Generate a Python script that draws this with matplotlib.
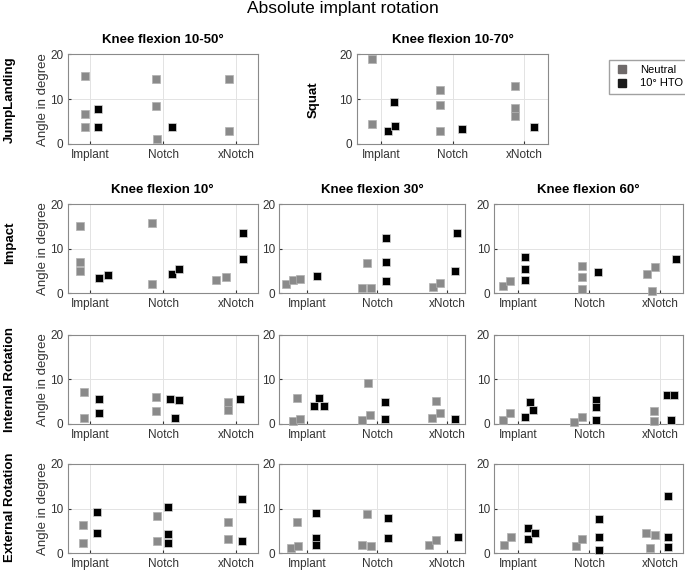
import matplotlib
matplotlib.use("Agg")
import matplotlib.pyplot as plt
from matplotlib.lines import Line2D

plt.rcParams["font.family"] = ["Liberation Sans", "DejaVu Sans"]

categories = ["Implant", "Notch", "xNotch"]
groups = ["Neutral", "10° HTO"]

# angle values per category (Implant, Notch, xNotch)
jump_neutral = [[15.1, 6.7, 3.7], [14.5, 8.5, 1.1], [14.4, 2.9]]
jump_hto = [[7.9, 3.8], [3.8], []]
squat_neutral = [[19.0, 4.4], [12.0, 8.8, 2.9], [12.9, 8.1, 6.2]]
squat_hto = [[2.8, 9.4, 4.0], [3.4], [3.7]]

impact10_neutral = [[15.1, 7.0, 4.9], [15.9, 2.0], [3.0, 3.7]]
impact10_hto = [[3.5, 4.2], [4.4, 5.5], [13.6, 7.6]]
impact30_neutral = [[2.0, 3.1, 3.3], [1.2, 1.2, 6.7], [1.5, 2.3]]
impact30_hto = [[3.8], [12.4, 7.0, 2.7], [13.6, 5.0]]
impact60_neutral = [[1.6, 2.8], [6.1, 3.7, 1.0], [4.4, 5.9, 0.5]]
impact60_hto = [[8.1, 5.4, 3.1], [4.7], [7.7]]

internal10_neutral = [[7.2, 1.3], [6.1, 2.9], [4.95, 3.2]]
internal10_hto = [[5.6, 2.5], [5.6, 5.3, 1.35], [5.6]]
internal30_neutral = [[0.7, 1.0, 5.9], [0.9, 1.9, 9.1], [1.3, 2.5, 5.2]]
internal30_hto = [[4.1, 5.7, 4.1], [4.8, 1.05], [1.05]]
internal60_neutral = [[0.9, 2.3], [0.3, 1.5], [2.9, 0.7]]
internal60_hto = [[1.5, 5.0, 3.0], [5.3, 3.7, 0.9], [6.4, 6.4, 0.75]]

external10_neutral = [[6.4, 2.3], [8.4, 2.8], [6.9, 3.1]]
external10_hto = [[9.2, 4.6], [10.3, 4.2, 2.2], [12.1, 2.7]]
external30_neutral = [[1.2, 1.6, 7.0], [1.8, 1.65, 8.7], [1.8, 2.9]]
external30_hto = [[9.1, 3.4, 1.7], [7.8, 3.4], [3.7]]
external60_neutral = [[1.8, 3.7], [1.6, 3.1], [4.5, 4.0, 1.2]]
external60_hto = [[5.6, 3.2, 4.6], [7.6, 3.6, 0.7], [12.7, 3.7, 1.3]]

# horizontal jitter of each point around its category (same nesting as above)
jump_neutral_dx = [[-0.07, -0.07, -0.07], [-0.1, -0.1, -0.08], [-0.1, -0.1]]
jump_hto_dx = [[0.11, 0.11], [0.12], []]
squat_neutral_dx = [[-0.13, -0.13], [-0.17, -0.17, -0.17], [-0.12, -0.12, -0.12]]
squat_hto_dx = [[0.1, 0.18, 0.2], [0.13], [0.14]]
impact10_neutral_dx = [[-0.14, -0.14, -0.14], [-0.15, -0.15], [-0.27, -0.14]]
impact10_hto_dx = [[0.12, 0.24], [0.12, 0.22], [0.1, 0.1]]
impact30_neutral_dx = [[-0.3, -0.2, -0.09], [-0.22, -0.09, -0.15], [-0.21, -0.1]]
impact30_hto_dx = [[0.14], [0.12, 0.12, 0.12], [0.13, 0.11]]
impact60_neutral_dx = [[-0.21, -0.11], [-0.1, -0.1, -0.1], [-0.18, -0.08, -0.12]]
impact60_hto_dx = [[0.1, 0.1, 0.1], [0.13], [0.22]]
internal10_neutral_dx = [[-0.09, -0.09], [-0.1, -0.1], [-0.11, -0.11]]
internal10_hto_dx = [[0.12, 0.12], [0.1, 0.22, 0.16], [0.06]]
internal30_neutral_dx = [[-0.19, -0.09, -0.14], [-0.21, -0.1, -0.13], [-0.22, -0.1, -0.16]]
internal30_hto_dx = [[0.1, 0.18, 0.25], [0.11, 0.11], [0.11]]
internal60_neutral_dx = [[-0.21, -0.11], [-0.22, -0.1], [-0.09, -0.09]]
internal60_hto_dx = [[0.1, 0.17, 0.21], [0.1, 0.1, 0.1], [0.09, 0.2, 0.15]]
external10_neutral_dx = [[-0.1, -0.1], [-0.09, -0.09], [-0.11, -0.11]]
external10_hto_dx = [[0.09, 0.09], [0.07, 0.07, 0.07], [0.09, 0.09]]
external30_neutral_dx = [[-0.22, -0.12, -0.14], [-0.21, -0.09, -0.15], [-0.26, -0.16]]
external30_hto_dx = [[0.13, 0.13, 0.13], [0.15, 0.15], [0.15]]
external60_neutral_dx = [[-0.2, -0.1], [-0.19, -0.1], [-0.2, -0.08, -0.14]]
external60_hto_dx = [[0.14, 0.14, 0.24], [0.14, 0.14, 0.14], [0.11, 0.11, 0.11]]

NEUTRAL_COLOR = "#8a8a8a"
HTO_COLOR = "#000000"
W, H = 685, 570


def add_panel(fig, px, neutral, neutral_dx, hto, hto_dx, title=None, xlim=(0.68, 3.3), ylabel=True):
    left, top, right, bottom = px
    ax = fig.add_axes([left / W, 1 - bottom / H, (right - left) / W, (bottom - top) / H])
    for vals, dxs, color in ((neutral, neutral_dx, NEUTRAL_COLOR), (hto, hto_dx, HTO_COLOR)):
        xs, ys = [], []
        for i, (cat_vals, cat_dx) in enumerate(zip(vals, dxs)):
            xs += [i + 1 + d for d in cat_dx]
            ys += cat_vals
        ax.plot(xs, ys, "s", ms=5.6, color=color, mec="#d9d9d9" if color == HTO_COLOR else "#b0b0b0",
                mew=0.5, zorder=3, clip_on=False)
    ax.set_xlim(*xlim)
    ax.set_ylim(0, 20)
    ax.set_xticks([1, 2, 3])
    ax.set_xticklabels(categories)
    ax.set_yticks([0, 10, 20])
    ax.grid(color="#e3e3e3", lw=0.7)
    ax.set_axisbelow(True)
    ax.tick_params(direction="in", length=2.5, labelsize=8.5, colors="#333333", pad=3.5)
    ax.tick_params(axis="y", pad=3)
    for s in ax.spines.values():
        s.set_color("#8a8a8a")
        s.set_linewidth(0.8)
    if title:
        ax.set_title(title, fontsize=9.5, fontweight="bold", pad=8)
    if ylabel:
        ax.set_ylabel("Angle in degree", fontsize=9.5, color="#333333", labelpad=1)
    return ax


fig = plt.figure(figsize=(W / 100, H / 100), dpi=100)
fig.text(343 / W, 1 - 9 / H, "Absolute implant rotation", ha="center", va="center", fontsize=12.5)

cols = [(67.7, 257.7), (279.3, 465.0), (494.0, 683.0)]
col_xlim = [(0.69, 3.30), (0.61, 3.25), (0.66, 3.32)]
rows = [(204.3, 293.3), (335.0, 423.7), (464.0, 553.0)]

add_panel(fig, (67.7, 54.3, 257.7, 144.0), jump_neutral, jump_neutral_dx, jump_hto, jump_hto_dx,
          title="Knee flexion 10-50°", xlim=(0.69, 3.30))
add_panel(fig, (356.7, 54.3, 548.3, 144.0), squat_neutral, squat_neutral_dx, squat_hto, squat_hto_dx,
          title="Knee flexion 10-70°", xlim=(0.66, 3.34), ylabel=False)

grid_data = [
    [(impact10_neutral, impact10_neutral_dx, impact10_hto, impact10_hto_dx),
     (impact30_neutral, impact30_neutral_dx, impact30_hto, impact30_hto_dx),
     (impact60_neutral, impact60_neutral_dx, impact60_hto, impact60_hto_dx)],
    [(internal10_neutral, internal10_neutral_dx, internal10_hto, internal10_hto_dx),
     (internal30_neutral, internal30_neutral_dx, internal30_hto, internal30_hto_dx),
     (internal60_neutral, internal60_neutral_dx, internal60_hto, internal60_hto_dx)],
    [(external10_neutral, external10_neutral_dx, external10_hto, external10_hto_dx),
     (external30_neutral, external30_neutral_dx, external30_hto, external30_hto_dx),
     (external60_neutral, external60_neutral_dx, external60_hto, external60_hto_dx)],
]
col_titles = ["Knee flexion 10°", "Knee flexion 30°", "Knee flexion 60°"]

for r, (top, bottom) in enumerate(rows):
    for c, (left, right) in enumerate(cols):
        n, ndx, h, hdx = grid_data[r][c]
        add_panel(fig, (left, top, right, bottom), n, ndx, h, hdx,
                  title=col_titles[c] if r == 0 else None, xlim=col_xlim[c], ylabel=(c == 0))

# row labels
for label, x, y in [("JumpLanding", 10, 100), ("Squat", 314, 100), ("Impact", 10, 243),
                    ("Internal Rotation", 10, 380), ("External Rotation", 10, 507)]:
    fig.text(x / W, 1 - y / H, label, rotation=90, ha="center", va="center",
             fontsize=9.5, fontweight="bold")

handles = [Line2D([], [], ls="none", marker="s", ms=5.6, color="#6f6a6a", label=groups[0]),
           Line2D([], [], ls="none", marker="s", ms=5.6, color="#1a1a1a", label=groups[1])]
fig.legend(handles=handles, loc="upper left", bbox_to_anchor=(603 / W, 1 - 54 / H),
           frameon=True, fancybox=False, edgecolor="#8a8a8a", fontsize=8,
           handletextpad=0.8, borderpad=0.5, labelspacing=0.3, handlelength=1.5)

fig.savefig("out.png", dpi=100)
